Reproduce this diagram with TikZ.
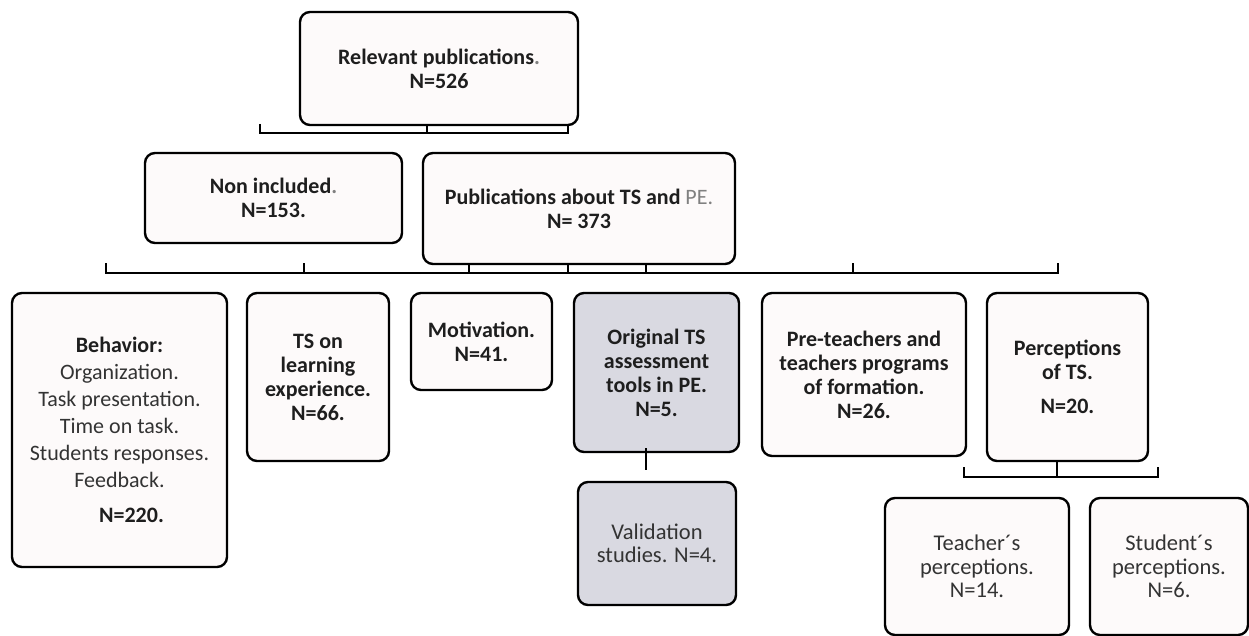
\documentclass[tikz,border=0pt]{standalone}
\usepackage{fontspec}
\setmainfont{Carlito}
\definecolor{boxfill}{HTML}{FDFAFA}
\definecolor{grayfill}{HTML}{D9D9E1}
\definecolor{txtdark}{HTML}{1E1E1E}
\definecolor{txtlight}{HTML}{333333}
\begin{document}
\begin{tikzpicture}[x=1pt,y=-1pt,
  box/.style={draw=black, line width=2.4pt, rounded corners=10pt, fill=boxfill,
    inner sep=0pt, align=center, text=txtdark,
    font=\fontsize{22}{24}\selectfont\bfseries},
  graybox/.style={box, fill=grayfill},
  lightbox/.style={font=\fontsize{22.5}{23.5}\selectfont, text=txtlight},
  conn/.style={draw=black, line width=2.4pt}]
\useasboundingbox (0,0) rectangle (1249,636);

% level 1
\node[box, minimum width=278pt, minimum height=113pt] (top) at (439,68.5)
  {Relevant publications{\color{gray}.}\\N=526};
% level 2
\node[box, minimum width=257pt, minimum height=90pt] (non) at (273.5,198)
  {Non included{\color{gray}.}\\N=153.};
\node[box, minimum width=312pt, minimum height=111pt] (pubs) at (579,208.5)
  {Publications about TS and {\mdseries\color{gray}PE.}\\N= 373};
% level 3
\node[box, minimum width=215pt, minimum height=274pt,
  font=\fontsize{22}{27}\selectfont] (behav) at (119.5,430)
  {\textbf{Behavior:}\\{\color{txtlight}Organization.}\\{\color{txtlight}Task presentation.}\\{\color{txtlight}Time on task.}\\{\color{txtlight}Students responses.}\\{\color{txtlight}Feedback.}\\[8pt]\hspace*{24pt}\textbf{N=220.}};
\node[box, minimum width=142pt, minimum height=168pt] (tsl) at (318,377)
  {TS on\\learning\\experience.\\N=66.};
\node[box, minimum width=141pt, minimum height=97pt] (mot) at (481.5,341.5)
  {Motivation.\\N=41.};
\node[graybox, minimum width=165pt, minimum height=159pt] (orig) at (656.5,372.5)
  {Original TS\\assessment\\tools in PE.\\N=5.};
\node[graybox, lightbox, minimum width=158pt, minimum height=123pt] (valid) at (657,543.5)
  {Validation\\studies. N=4.};
\node[box, minimum width=204pt, minimum height=163pt] (pre) at (864,374.5)
  {Pre-teachers and\\teachers programs\\of formation.\\N=26.};
\node[box, minimum width=161pt, minimum height=168pt] (perc) at (1067.5,377)
  {Perceptions\\of TS.\\[10pt]N=20.};
% level 4
\node[box, lightbox, minimum width=184pt, minimum height=137pt] (teach) at (977,566.5)
  {Teacher´s\\perceptions.\\N=14.};
\node[box, lightbox, minimum width=158pt, minimum height=137pt] (stud) at (1169,566.5)
  {Student´s\\perceptions.\\N=6.};

% bracket below top
\coordinate (b1) at (427,133);
\coordinate (b1l) at (260,133);
\coordinate (b1r) at (568,133);
\draw[conn] (top.south -| b1) -- (b1);
\draw[conn] ([yshift=9pt]b1l) -- (b1l) -- (b1r) -- ([yshift=9pt]b1r);

% bracket below pubs
\coordinate (b2) at (568,273);
\coordinate (b2a) at (106,273);
\coordinate (b2b) at (304,273);
\coordinate (b2c) at (469,273);
\coordinate (b2d) at (646,273);
\coordinate (b2e) at (853,273);
\coordinate (b2f) at (1058,273);
\draw[conn] (pubs.south -| b2) -- (b2);
\draw[conn] ([yshift=10pt]b2a) -- (b2a) -- (b2f) -- ([yshift=10pt]b2f);
\foreach \c in {b2b,b2c,b2d,b2e}
  \draw[conn] (\c) -- ([yshift=10pt]\c);

% orig to validation
\coordinate (s3) at (646,470);
\draw[conn] ([yshift=5pt]orig.south -| s3) -- (s3);

% bracket below perceptions
\coordinate (b4) at (1057,477);
\coordinate (b4l) at (964,477);
\coordinate (b4r) at (1158,477);
\draw[conn] (perc.south -| b4) -- (b4);
\draw[conn] ([yshift=10pt]b4l) -- (b4l) -- (b4r) -- ([yshift=10pt]b4r);
\end{tikzpicture}
\end{document}
